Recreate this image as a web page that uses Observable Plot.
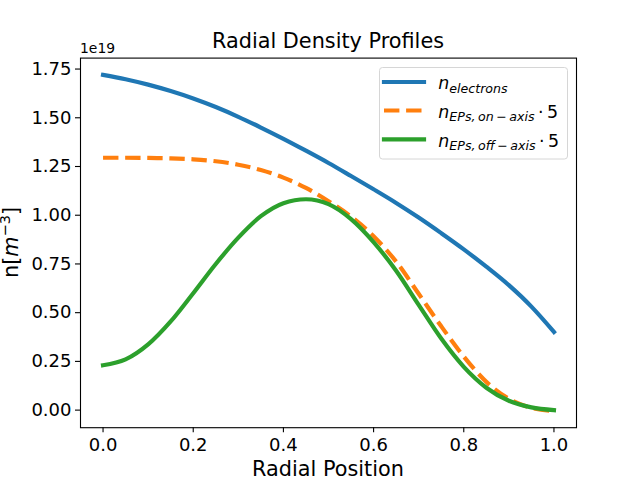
<!DOCTYPE html>
<html>
<head>
<meta charset="utf-8">
<script src="https://cdn.jsdelivr.net/npm/d3@7"></script>
<script src="https://cdn.jsdelivr.net/npm/@observablehq/plot@0.6"></script>
<style>
  html, body { margin: 0; padding: 0; background: white; }
  #chart { width: 640px; height: 480px; }
</style>
</head>
<body>
<div id="chart"></div>
<script>
// Radial positions
const radius = [0.00, 0.05, 0.10, 0.15, 0.20, 0.25, 0.30, 0.35, 0.40, 0.45, 0.50,
                0.55, 0.60, 0.65, 0.70, 0.75, 0.80, 0.85, 0.90, 0.95, 1.00];
// Densities in units of 1e19 m^-3
const nElectrons = [1.720, 1.698, 1.670, 1.637, 1.599, 1.555, 1.505, 1.450, 1.392, 1.331, 1.268,
                    1.201, 1.133, 1.063, 0.988, 0.908, 0.825, 0.736, 0.641, 0.531, 0.401];
const nEPsOnAxis = [1.295, 1.295, 1.294, 1.292, 1.287, 1.277, 1.259, 1.232, 1.193, 1.140, 1.072,
                    0.993, 0.892, 0.762, 0.597, 0.430, 0.275, 0.145, 0.058, 0.012, -0.004];
const nEPsOffAxis = [0.230, 0.260, 0.337, 0.455, 0.600, 0.750, 0.885, 0.995, 1.062, 1.082, 1.057,
                     0.980, 0.862, 0.715, 0.540, 0.367, 0.222, 0.115, 0.048, 0.014, 0.000];
const xTicks = [0.0, 0.2, 0.4, 0.6, 0.8, 1.0];
const yTicks = [0.00, 0.25, 0.50, 0.75, 1.00, 1.25, 1.50, 1.75];

const colors = {electrons: "#1f77b4", on: "#ff7f0e", off: "#2ca02c"};

const rows = (vals) => radius.map((r, i) => ({r, v: vals[i]}));
const eRows = rows(nElectrons), onRows = rows(nEPsOnAxis), offRows = rows(nEPsOffAxis);

// matplotlib-like 5% margins
const allY = nElectrons.concat(nEPsOnAxis, nEPsOffAxis);
const [x0, x1] = d3.extent(radius), [y0, y1] = d3.extent(allY);
const mx = (x1 - x0) * 0.05, my = (y1 - y0) * 0.05;

const font = "DejaVu Sans";
const chart = Plot.plot({
  width: 640, height: 480,
  marginLeft: 80, marginRight: 64, marginTop: 57.6, marginBottom: 52.8,
  style: {fontFamily: font, color: "black", background: "white", overflow: "visible"},
  x: {domain: [x0 - mx, x1 + mx]},
  y: {domain: [y0 - my, y1 + my]},
  marks: [
    Plot.line(eRows, {x: "r", y: "v", stroke: colors.electrons, strokeWidth: 4.2, curve: "monotone-x", strokeLinecap: "square"}),
    Plot.line(onRows, {x: "r", y: "v", stroke: colors.on, strokeWidth: 4.2, curve: "monotone-x", strokeDasharray: "15.4,6.7", strokeLinecap: "butt"}),
    Plot.line(offRows, {x: "r", y: "v", stroke: colors.off, strokeWidth: 4.2, curve: "monotone-x", strokeLinecap: "square"}),
    Plot.frame({stroke: "black", strokeWidth: 1.1}),
    Plot.axisX({ticks: xTicks, tickFormat: d3.format(".1f"), tickSize: 5, tickPadding: 6, fontSize: 18, label: null, strokeWidth: 1.1}),
    Plot.axisY({ticks: yTicks, tickFormat: d3.format(".2f"), tickSize: 5, tickPadding: 4, fontSize: 18, label: null, strokeWidth: 1.1})
  ]
});
document.getElementById("chart").appendChild(chart);

const svg = d3.select(chart);
// Title
svg.append("text").attr("x", 328).attr("y", 48).attr("text-anchor", "middle")
  .attr("font-family", font).attr("font-size", 20.8).attr("fill", "black")
  .text("Radial Density Profiles");
// X label
svg.append("text").attr("x", 328).attr("y", 476).attr("text-anchor", "middle")
  .attr("font-family", font).attr("font-size", 20.8).attr("fill", "black")
  .text("Radial Position");
// Y label n[m^-3]
const yl = svg.append("text").attr("transform", "translate(18,242.4) rotate(-90)")
  .attr("text-anchor", "middle").attr("font-family", font).attr("font-size", 20.8).attr("fill", "black");
yl.append("tspan").text("n[");
yl.append("tspan").attr("font-style", "italic").text("m");
yl.append("tspan").attr("font-size", 14.6).attr("dy", -8.5).text("\u22123");
yl.append("tspan").attr("dy", 8.5).text("]");
// Offset text
svg.append("text").attr("x", 80).attr("y", 53.3).attr("text-anchor", "start").attr("font-family", font)
  .attr("font-size", 13.9).attr("fill", "black").text("1e19");

// Legend
const lg = svg.append("g");
lg.append("rect").attr("x", 379.5).attr("y", 67.5).attr("width", 188).attr("height", 91.5)
  .attr("rx", 3).attr("fill", "white").attr("fill-opacity", 0.8)
  .attr("stroke", "#d6d6d6").attr("stroke-width", 1);
const entries = [
  {key: "electrons", sub: "electrons", tail: "", y: 82},
  {key: "on", sub: "EPs,\u2009on\u2009\u2212\u2009axis", tail: "\u2009\u00b7\u20095", y: 110.5},
  {key: "off", sub: "EPs,\u2009off\u2009\u2212\u2009axis", tail: "\u2009\u00b7\u20095", y: 139.3}
];
entries.forEach(e => {
  lg.append("line").attr("x1", 384).attr("x2", 424).attr("y1", e.y).attr("y2", e.y)
    .attr("stroke", colors[e.key]).attr("stroke-width", 4.2)
    .attr("stroke-dasharray", e.key === "on" ? "15.4,6.7" : null)
    .attr("stroke-linecap", e.key === "on" ? "butt" : "square");
  const t = lg.append("text").attr("x", 438.3).attr("y", e.y + 7.3).attr("text-anchor", "start")
    .attr("font-family", font).attr("font-size", 17.4).attr("fill", "black");
  t.append("tspan").attr("font-style", "italic").text("n");
  t.append("tspan").attr("font-style", "italic").attr("font-size", 12.6).attr("dy", 3.5).text(e.sub);
  if (e.tail) t.append("tspan").attr("dy", -3.5).text(e.tail);
});
</script>
</body>
</html>
